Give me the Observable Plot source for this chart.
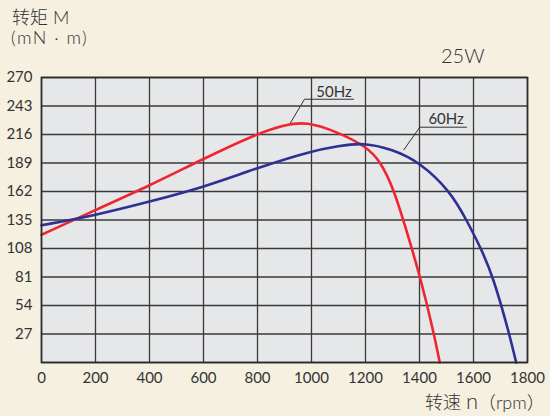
<!DOCTYPE html>
<html>
<head>
<meta charset="utf-8">
<script src="https://cdn.jsdelivr.net/npm/d3@7"></script>
<script src="https://cdn.jsdelivr.net/npm/@observablehq/plot@0.6"></script>
<style>
  html, body { margin: 0; padding: 0; background: #f5f0e0; }
  #wrap { position: relative; width: 550px; height: 416px; background: #f5f0e0; overflow: hidden; }
  #wrap svg { position: absolute; left: 0; top: 0; }
</style>
</head>
<body>
<div id="wrap"></div>
<script>
// ---- data ----
const xTicks = [0, 200, 400, 600, 800, 1000, 1200, 1400, 1600, 1800];
const yTicks = [0, 27, 54, 81, 108, 135, 162, 189, 216, 243, 270];
const yTickLabels = [27, 54, 81, 108, 135, 162, 189, 216, 243, 270];

const rpm50 = [0, 200, 400, 600, 800, 900, 980, 1100, 1200, 1255, 1305, 1352, 1404, 1453, 1475];
const torque50 = [121, 144.5, 167.5, 193, 217, 225, 228.5, 218, 205, 191, 164, 125, 80, 28, 0];

const rpm60 = [0, 200, 400, 600, 800, 1000, 1100, 1190, 1300, 1400, 1515, 1574, 1628, 1673, 1733, 1758];
const torque60 = [130, 139.5, 152.4, 166, 184.5, 200.5, 205, 208.5, 202, 190, 162, 135, 108, 81, 27, 0];

const seriesNames = ["50Hz", "60Hz"];
const leader50 = {n: [922, 974, 1156], m: [227, 249.4, 249.4]};
const leader60 = {n: [1342, 1401, 1574], m: [201.5, 222.9, 222.9]};
const labelN = [1018, 1433];
const labelM = [251.3, 225.5];

const red = "#ef2630";
const blue = "#2c3192";

const d50 = rpm50.map((n, i) => ({n, m: torque50[i]}));
const d60 = rpm60.map((n, i) => ({n, m: torque60[i]}));
const l50 = leader50.n.map((n, i) => ({n, m: leader50.m[i]}));
const l60 = leader60.n.map((n, i) => ({n, m: leader60.m[i]}));
const labels = seriesNames.map((s, i) => ({s, n: labelN[i], m: labelM[i]}));

const chart = Plot.plot({
  width: 550,
  height: 416,
  marginLeft: 41,
  marginRight: 23,
  marginTop: 77,
  marginBottom: 54,
  style: {background: "transparent", fontFamily: "Lato, 'Noto Sans CJK SC', sans-serif", fontSize: "15px", color: "#333"},
  x: {domain: [0, 1800]},
  y: {domain: [0, 270]},
  marks: [
    Plot.frame({fill: "#e6e7e9", stroke: null}),
    Plot.gridX(xTicks, {stroke: "#3a3a3a", strokeOpacity: 1, strokeWidth: 1.3}),
    Plot.gridY(yTicks, {stroke: "#3a3a3a", strokeOpacity: 1, strokeWidth: 1.3}),
    Plot.line(d50, {x: "n", y: "m", stroke: red, strokeWidth: 2.6, curve: "basis"}),
    Plot.line(d60, {x: "n", y: "m", stroke: blue, strokeWidth: 2.6, curve: "basis"}),
    Plot.frame({stroke: "#2a2a2a", strokeWidth: 1.6}),
    Plot.line(l50, {x: "n", y: "m", stroke: "#333", strokeWidth: 1}),
    Plot.line(l60, {x: "n", y: "m", stroke: "#333", strokeWidth: 1}),
    Plot.text(labels, {x: "n", y: "m", text: "s", textAnchor: "start", lineAnchor: "bottom", fontSize: 15, fill: "#333"}),
    Plot.axisX(xTicks, {tickSize: 0, tickPadding: 10, fontSize: 15, fill: "#333", label: null, tickFormat: d => String(d)}),
    Plot.axisY(yTickLabels, {tickSize: 0, tickPadding: 9, fontSize: 15, fill: "#333", label: null, tickFormat: d => String(d)})
  ]
});
document.getElementById("wrap").appendChild(chart);

// titles overlay
const ov = d3.select("#wrap").append("svg")
  .attr("width", 550).attr("height", 416)
  .style("pointer-events", "none")
  .style("font-family", "Lato, 'Noto Sans CJK SC', sans-serif")
  .style("font-weight", 300)
  .attr("fill", "#333");
ov.append("text").attr("x", 12).attr("y", 24).attr("font-size", 18).text("转矩 M");
ov.append("text").attr("x", 11).attr("y", 44).attr("font-size", 18).attr("letter-spacing", 1.5).text("(mN · m)");
ov.append("text").attr("x", 441).attr("y", 63).attr("font-size", 20).text("25W");
const xl = ov.append("text").attr("x", 425).attr("y", 409).attr("font-size", 18);
xl.append("tspan").text("转速 ");
xl.append("tspan").attr("font-size", 22).text("n");
xl.append("tspan").text("（rpm）");
</script>
</body>
</html>
